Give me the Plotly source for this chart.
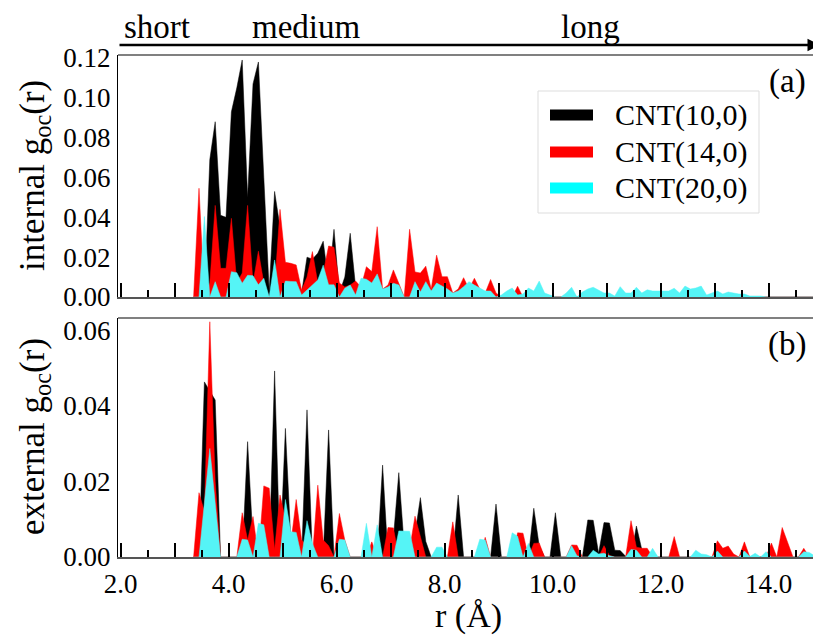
import plotly.graph_objects as go

# r grid (Angstrom)
R = [3.35, 3.45, 3.55, 3.65, 3.75, 3.85, 3.95, 4.05, 4.15, 4.25,
     4.35, 4.45, 4.55, 4.65, 4.75, 4.85, 4.95, 5.05, 5.15, 5.25,
     5.35, 5.45, 5.55, 5.65, 5.75, 5.85, 5.95, 6.05, 6.15, 6.25,
     6.35, 6.45, 6.55, 6.65, 6.75, 6.85, 6.95, 7.05, 7.15, 7.25,
     7.35, 7.45, 7.55, 7.65, 7.75, 7.85, 7.95, 8.05, 8.15, 8.25,
     8.35, 8.45, 8.55, 8.65, 8.75, 8.85, 8.95, 9.05, 9.15, 9.25,
     9.35, 9.45, 9.55, 9.65, 9.75, 9.85, 9.95, 10.05, 10.15, 10.25,
     10.35, 10.45, 10.55, 10.65, 10.75, 10.85, 10.95, 11.05, 11.15, 11.25,
     11.35, 11.45, 11.55, 11.65, 11.75, 11.85, 11.95, 12.05, 12.15, 12.25,
     12.35, 12.45, 12.55, 12.65, 12.75, 12.85, 12.95, 13.05, 13.15, 13.25,
     13.35, 13.45, 13.55, 13.65, 13.75, 13.85, 13.95, 14.05, 14.15, 14.25,
     14.35, 14.45, 14.55, 14.65, 14.75, 14.85, 14.95]

# (a) internal g_oc(r)
int_10 = [0, 0, 0, .069, .088, .041, .040, .093, .105, .119,
          .050, .107, .118, .060, .003, .053, .035, .012, .008, .005,
          .002, .020, .019, .022, .028, .007, .034, .002, .010, .032,
          .005, 0, 0, 0, 0, 0, 0, 0, 0, 0,
          0, 0, 0, 0, 0, 0, 0, 0, 0, 0,
          0, 0, 0, 0, 0, 0, 0, 0, 0, 0,
          0, 0, 0, 0, 0, 0, 0, 0, 0, 0,
          0, 0, 0, 0, 0, 0, 0, 0, 0, 0,
          0, 0, 0, 0, 0, 0, 0, 0, 0, 0,
          0, 0, 0, 0, 0, 0, 0, 0, 0, 0,
          0, 0, 0, 0, 0, 0, 0, 0, 0, 0,
          0, 0, 0, 0, 0, 0, 0]
int_14 = [0, .0546, 0, .007, .046, .0144, .0144, .0395, .007, .012,
          .046, .007, .023, .007, 0, .005, .044, .0174, .0169, .0161,
          .0035, .010, .0228, .007, .012, .0256, .025, .007, .005, .006,
          .008, .005, .0152, .0128, .0353, .004, .006, .0136, .0069, 0,
          .034, .0126, .012, .0155, .004, .021, .0102, .0102, .002, .004,
          .0097, .004, .0094, .004, .002, .0088, .002, 0, 0, 0,
          .0054, 0, 0, 0, 0, 0, 0, 0, 0, 0,
          0, 0, 0, 0, 0, 0, 0, 0, 0, 0,
          0, 0, 0, 0, 0, 0, 0, 0, 0, 0,
          0, 0, 0, 0, 0, 0, 0, 0, 0, 0,
          0, 0, 0, 0, 0, 0, 0, 0, 0, 0,
          0, 0, 0, 0, 0, 0, 0]
int_20 = [0, 0, .0404, 0, .0077, 0, 0, .0127, .0122, .0069,
          .0109, .0107, .0061, .0094, 0, .0186, 0, .008, .0078, .0077,
          .001, .0035, .006, .0085, .016, .0061, .0061, 0, .0044, .006,
          .001, .0094, .0089, .007, .0116, .004, .005, .0069, .006, 0,
          0, .0077, .0025, .0077, .003, .007, .0055, .004, .002, .003,
          .0052, .0077, .006, .0044, .003, .003, 0, .001, .003, .0045,
          .001, .0015, .0045, .003, .008, .002, .001, 0, 0, .002,
          .0049, 0, .0025, .004, .0049, .0036, .002, .002, .0005, .0052,
          .002, .002, .0049, .002, .0036, .003, .003, .003, .003, .0044,
          .002, .0055, .004, .0045, .0055, .001, .002, .003, .0015, .0025,
          .002, .0015, .0015, .0005, .0005, .0005, 0, 0, 0, 0,
          0, 0, 0, 0, 0, 0, 0]

# (b) external g_oc(r)
ext_10 = [0, 0, .0463, .044, .0415, 0, 0, 0, 0, 0,
          .0305, .0041, 0, 0, 0, .0492, 0, .034, .0045, 0,
          0, .0389, 0, 0, 0, .0336, 0, 0, 0, 0,
          0, 0, 0, 0, 0, .0243, 0, .005, .0223, .0028,
          0, .006, .0157, .0041, 0, 0, 0, 0, 0, .0164,
          0, 0, 0, 0, 0, 0, .014, 0, 0, 0,
          0, 0, 0, .0129, .003, 0, 0, .0117, 0, 0,
          0, 0, 0, .0098, .0097, .001, .0091, .009, .0018, .0017,
          .0002, 0, .0082, .002, 0, 0, 0, 0, 0, 0,
          0, 0, 0, 0, 0, 0, 0, 0, 0, 0,
          0, 0, 0, 0, 0, 0, 0, 0, 0, 0,
          0, 0, 0, 0, 0, 0, 0]
ext_14 = [0, .017, .012, .0622, .020, 0, 0, 0, 0, .0117,
          .0045, .0107, 0, .0188, .0182, .002, .0164, .010, .0036, .0152,
          .0045, .003, 0, .019, .0045, .003, 0, .0115, .0045, 0,
          0, 0, 0, .004, 0, 0, .0078, .0077, 0, 0,
          .002, .0108, .0054, 0, 0, 0, 0, 0, .0093, 0,
          0, 0, 0, 0, .0052, 0, 0, 0, 0, 0,
          .0064, .0063, 0, .0036, .0037, 0, 0, 0, 0, 0,
          .0032, .0031, 0, 0, 0, 0, .003, .0004, 0, 0,
          0, .0096, .0026, .0023, .0023, 0, 0, 0, 0, .0054,
          0, 0, 0, 0, 0, 0, 0, .0043, .0023, .0029,
          .0008, 0, .004, 0, 0, 0, 0, .0037, 0, .0078,
          .0039, 0, 0, .0023, 0, 0, 0]
ext_20 = [0, 0, .0143, .0287, .0143, 0, 0, 0, 0, .0047,
          .0045, 0, .0089, .0085, 0, 0, 0, .0152, .0067, .0065,
          0, .0096, .0036, 0, 0, 0, 0, .0047, .0045, 0,
          0, 0, .0089, 0, .0085, 0, 0, 0, .0069, .0069,
          .0068, 0, 0, 0, 0, .0026, .0026, 0, 0, 0,
          0, 0, 0, .0047, .0045, 0, 0, 0, 0, .0064,
          .0055, 0, .0036, 0, 0, 0, 0, 0, 0, 0,
          .003, .0003, 0, 0, .0018, .0008, .001, .0003, 0, 0,
          0, .002, .0018, 0, 0, .0023, 0, 0, 0, 0,
          0, 0, 0, .0018, .0008, .0006, 0, .0016, 0, 0,
          0, 0, .0016, .0001, .001, 0, .0014, 0, 0, 0,
          0, 0, 0, .0014, .0012, .0003, .0003]

SERIES = ["CNT(10,0)", "CNT(14,0)", "CNT(20,0)"]
COLORS = ["#000000", "#ff0000", "#55f4f6"]
LEGEND_COLORS = ["#000000", "#ff0000", "#00ffff"]
X_TICKS = [2, 3, 4, 5, 6, 7, 8, 9, 10, 11, 12, 13, 14]
X_TICKTEXT = ["2.0", " ", "4.0", " ", "6.0", " ", "8.0", " ", "10.0", " ", "12.0", " ", "14.0"]
Y1_TICKS = [0.0, 0.02, 0.04, 0.06, 0.08, 0.10, 0.12]
Y2_TICKS = [0.0, 0.02, 0.04, 0.06]

FONT = "Liberation Serif"

fig = go.Figure()
for name, col, ys in zip(SERIES, COLORS, [int_10, int_14, int_20]):
    fig.add_trace(go.Scatter(x=R, y=ys, mode="lines", fill="tozeroy", name=name,
                             line=dict(color=col, width=0.5), fillcolor=col,
                             showlegend=False, xaxis="x", yaxis="y"))
for name, col, ys in zip(SERIES, COLORS, [ext_10, ext_14, ext_20]):
    fig.add_trace(go.Scatter(x=R, y=ys, mode="lines", fill="tozeroy", name=name,
                             line=dict(color=col, width=0.5), fillcolor=col,
                             showlegend=False, xaxis="x2", yaxis="y2"))

# the page body adds an 8 px offset; helper coordinates below are screen pixels
L, RM, T, B = 110, 9, 47, 89
W, H = 821, 638
PW, PH = W - L - RM, H - T - B


def px(xs):
    return (xs - 8 - L) / PW


def py(ys):
    return (H - B - (ys - 8)) / PH


xcommon = dict(range=[1.95, 14.95], tickvals=X_TICKS, ticks="inside", ticklen=14,
               tickwidth=1.5, tickcolor="black", showline=True, linecolor="#555555",
               linewidth=2, showgrid=False, zeroline=False,
               minor=dict(ticks="inside", ticklen=7, dtick=0.5, tick0=1.5,
                          tickwidth=1.5, tickcolor="black", showgrid=False),
               tickfont=dict(family=FONT, size=27, color="black"))

ycommon = dict(tickformat=".2f", ticks="outside", ticklen=1,
               tickcolor="rgba(0,0,0,0)", showline=True, linecolor="black",
               linewidth=1, showgrid=False, zeroline=False,
               tickfont=dict(family=FONT, size=27, color="black"))

fig.update_layout(
    width=W, height=H,
    margin=dict(l=L, r=RM, t=T, b=B, autoexpand=False),
    paper_bgcolor="white", plot_bgcolor="white",
    showlegend=False,
    xaxis=dict(**xcommon, domain=[0, 1], anchor="y", showticklabels=False),
    xaxis2=dict(**xcommon, domain=[0, 1], anchor="y2", ticktext=X_TICKTEXT,
                ticklabelstandoff=2),
    yaxis=dict(**ycommon, domain=[py(297), 1], range=[0, 0.1215], tickvals=Y1_TICKS),
    yaxis2=dict(**ycommon, domain=[0, py(318)], range=[0, 0.0632], tickvals=Y2_TICKS),
)

shapes = [
    dict(type="line", xref="paper", yref="paper", x0=0, x1=1, y0=1, y1=1,
         line=dict(color="#808080", width=2)),
    dict(type="line", xref="paper", yref="paper", x0=0, x1=1, y0=py(318), y1=py(318),
         line=dict(color="#808080", width=2)),
    # legend box
    dict(type="rect", xref="paper", yref="paper", x0=px(538), x1=px(759),
         y0=py(213), y1=py(91), line=dict(color="#dddddd", width=1),
         fillcolor="white"),
]


def label(text, xs, ys, size, xanchor="center", angle=0):
    return dict(text=text, xref="paper", yref="paper", x=px(xs), y=py(ys),
                xanchor=xanchor, yanchor="middle", showarrow=False, textangle=angle,
                font=dict(family=FONT, size=size, color="black"))


annotations = []
rows_y = [115, 152, 188]
for name, col, yy in zip(SERIES, LEGEND_COLORS, rows_y):
    shapes.append(dict(type="rect", xref="paper", yref="paper", x0=px(550), x1=px(593),
                       y0=py(yy + 5.5), y1=py(yy - 5.5), line=dict(width=0),
                       fillcolor=col))
    annotations.append(label(name, 613, yy, 30, xanchor="left"))

annotations += [
    label("(a)", 787, 82, 33),
    label("(b)", 787, 345, 33),
    label("internal g<sub>oc</sub>(r)", 34, 176, 35, angle=-90),
    label("external g<sub>oc</sub>(r)", 34, 437, 35, angle=-90),
    label("r (Å)", 468, 616, 34),
    label("short", 157, 27, 33),
    label("medium", 306, 27, 33),
    label("long", 590, 27, 33),
    dict(text="", xref="paper", yref="paper", x=px(820), y=py(45),
         ax=-(820 - 118), ay=0, axref="pixel", ayref="pixel", showarrow=True,
         arrowhead=2, arrowsize=1, arrowwidth=2.5, arrowcolor="black"),
]

fig.update_layout(shapes=shapes, annotations=annotations)
fig.write_html("out.html")
